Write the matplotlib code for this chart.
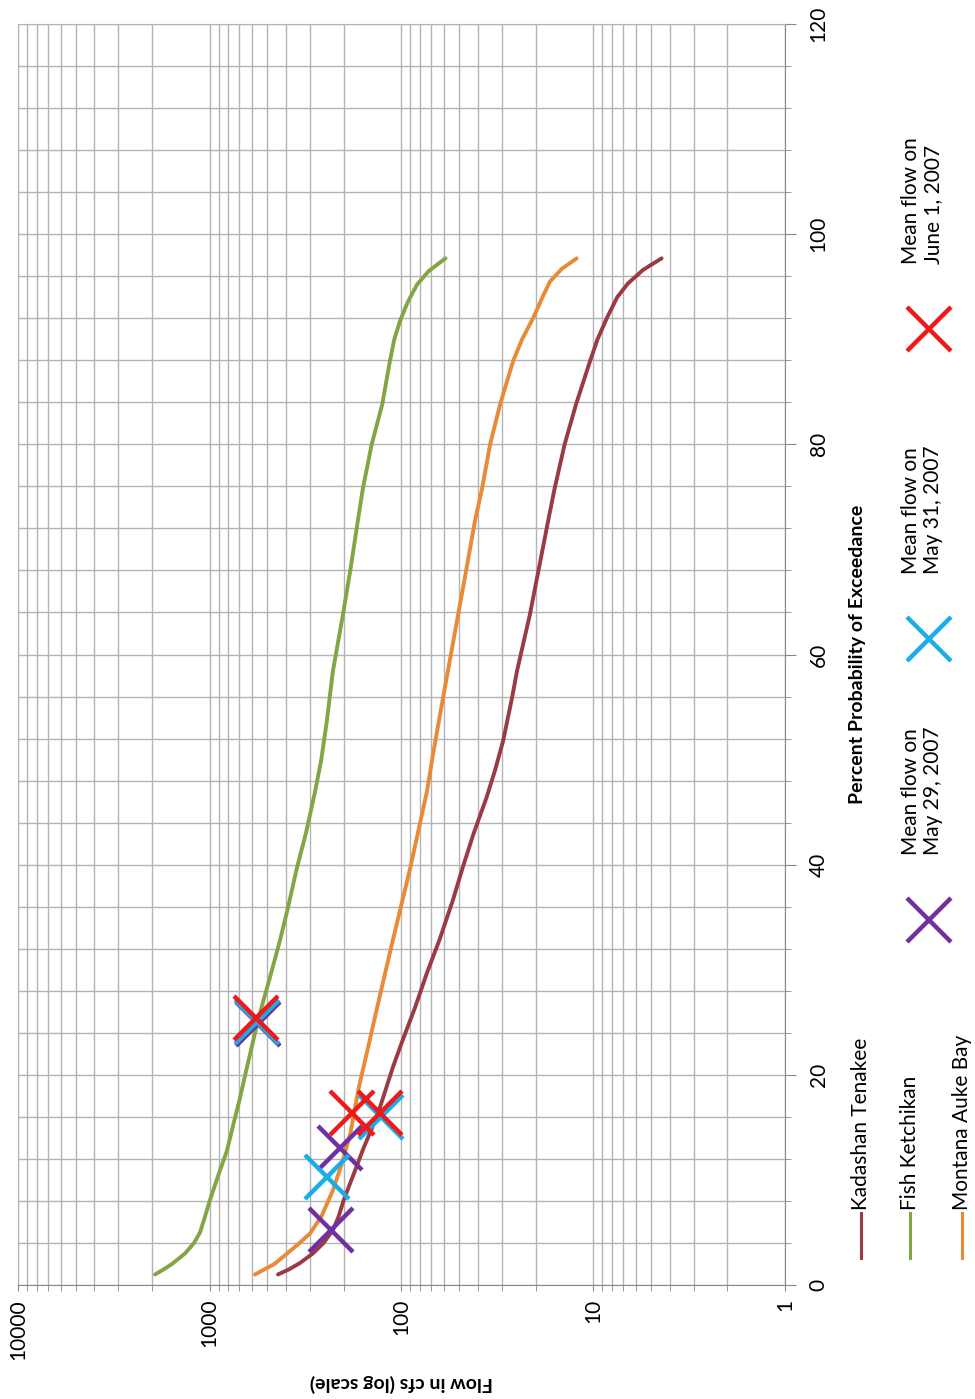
import matplotlib
matplotlib.use("Agg")
import matplotlib.pyplot as plt
from matplotlib.lines import Line2D
from matplotlib.ticker import MultipleLocator, FixedLocator, FixedFormatter, LogLocator, NullFormatter

# flow duration curves: percent exceedance vs flow (cfs)
kadashan_pct = [1, 1.5, 2.1, 3, 4, 5.2, 6.5, 8.1, 10.5, 13, 15, 17, 20.7, 23, 26.4, 29.6, 32.8,
                36.6, 39.7, 43, 46.4, 49, 51.8, 55.9, 58.4, 61, 63.8, 68, 72.7, 75.8, 80, 83.8,
                87.9, 90, 92, 94, 95.3, 96.6, 97.7]
kadashan_flow = [441, 385, 338, 290, 255, 228, 213, 200, 178, 158, 142, 129, 111, 100, 85, 74,
                 63.5, 54, 48, 42, 36, 32.5, 29.5, 26.5, 25, 23.2, 21.4, 19.3, 17.2, 15.9, 14.1,
                 12.3, 10.4, 9.5, 8.5, 7.5, 6.6, 5.5, 4.4]

fish_pct = [1, 1.5, 2, 3, 4, 5, 6.5, 8.1, 10.5, 12.8, 15, 17.6, 20.7, 25.5, 29, 32.8, 36,
            39.7, 43, 47, 50, 53.7, 58.4, 63.8, 68, 72.7, 75.8, 80, 83.8, 87.9, 90, 91.7, 93.5,
            95.2, 96.5, 97.7]
fish_flow = [1930, 1734, 1574, 1346, 1208, 1124, 1059, 997, 900, 813, 760, 700, 640, 555, 490,
             430, 390, 351, 315, 282, 262, 245, 228, 202, 185, 169, 159, 143, 126, 115, 109, 102,
             93, 83, 72, 59]

montana_pct = [1, 2, 3, 4, 4.9, 6.5, 9, 11.5, 14.4, 18.8, 22, 26.4, 32.8, 39.7, 47, 50.5, 55.9,
               63.5, 68, 72.7, 75.8, 80, 83.8, 87.9, 90, 92, 94, 95.5, 96.7, 97.7]
montana_flow = [581, 460, 395, 340, 300, 262, 228, 205, 185, 167, 152, 134, 111, 90, 73.6, 68.5,
                60.7, 51, 46, 41.4, 38, 34.5, 30.6, 26.2, 23.5, 20.6, 18.4, 16.8, 14.6, 12.2]

# daily mean flows, one point per stream (Fish, Montana, Kadashan)
may29_pct = [24.8, 13.0, 5.2]
may29_flow = [560, 210, 233]
may31_pct = [25.0, 10.3, 16.0]
may31_flow = [565, 245, 128]
jun1_pct = [25.4, 16.4, 16.4]
jun1_flow = [574, 181, 129]

plt.rcParams['font.family'] = ['Lato', 'DejaVu Sans']

W, H = 975, 1399
fig = plt.figure(figsize=(W / 100, H / 100), dpi=100)
ax = fig.add_axes([18 / W, 1 - 1285 / H, 767 / W, 1261 / H])

c_kad, c_fish, c_mon = '#9A3B43', '#83A545', '#E88A36'
c_29, c_31, c_01 = '#7030A0', '#1AAEE8', '#F01818'

line_kw = dict(lw=2.8, solid_capstyle='round', solid_joinstyle='round', zorder=3)
ax.plot(kadashan_flow, kadashan_pct, color=c_kad, **line_kw)
ax.plot(fish_flow, fish_pct, color=c_fish, **line_kw)
ax.plot(montana_flow, montana_pct, color=c_mon, **line_kw)

mk = dict(marker='x', ls='none', ms=31, mew=3.2, zorder=4)
ax.plot(may29_flow, may29_pct, color=c_29, **mk)
ax.plot(may31_flow, may31_pct, color=c_31, **mk)
ax.plot(jun1_flow, jun1_pct, color=c_01, **mk)

ax.set_xscale('log')
ax.set_xlim(10000, 1)
ax.set_ylim(0, 120)

ax.xaxis.set_major_locator(FixedLocator([1, 10, 100, 1000, 10000]))
ax.xaxis.set_major_formatter(FixedFormatter(['1', '10', '100', '1000', '10000']))
ax.xaxis.set_minor_locator(LogLocator(base=10, subs=range(2, 10)))
ax.xaxis.set_minor_formatter(NullFormatter())
ax.yaxis.set_major_locator(MultipleLocator(20))
ax.yaxis.set_minor_locator(MultipleLocator(4))

ax.grid(which='both', color='#B3B3B3', lw=1.0)
ax.set_axisbelow(True)

ax.yaxis.tick_right()
ax.tick_params(axis='x', which='both', direction='out', length=4, color='#888888',
               labelsize=15, labelrotation=90, pad=6)
ax.tick_params(axis='y', which='major', direction='out', length=8, color='#888888',
               labelsize=15, labelrotation=90, pad=9)
ax.tick_params(axis='y', which='minor', direction='out', length=4, color='#888888')
for lbl in ax.get_yticklabels():
    lbl.set_verticalalignment('center')
    lbl.set_horizontalalignment('left')

for s in ['bottom', 'right']:
    ax.spines[s].set_color('#888888')
for s in ['top', 'left']:
    ax.spines[s].set_color('#B3B3B3')

ax.set_xlabel('Flow in cfs (log scale)', fontsize=14, fontweight='bold', rotation=180)
ax.xaxis.set_label_coords(0.5, -(1383 - 1285) / 1261)
ax.xaxis.label.set_va('center')
ax.yaxis.set_label_position('right')
ax.set_ylabel('Percent Probability of Exceedance', fontsize=14, fontweight='bold', rotation=90)
ax.yaxis.set_label_coords((858 - 18) / 767, 0.5)
ax.yaxis.label.set_va('center')


def fx(x):
    return x / W


def fy(y):
    return 1 - y / H


# legend drawn sideways to the right of the plot
series_legend = [('Kadashan Tenakee', c_kad, 861), ('Fish Ketchikan', c_fish, 910),
                 ('Montana Auke Bay', c_mon, 962)]
for name, col, x in series_legend:
    fig.add_artist(Line2D([fx(x), fx(x)], [fy(1258), fy(1213)], color=col, lw=2.2,
                          transform=fig.transFigure))
    fig.text(fx(x), fy(1210), name, rotation=90, rotation_mode='anchor',
             ha='left', va='center', fontsize=15)

date_legend = [('Mean flow on\nMay 29, 2007', c_29, 920), ('Mean flow on\nMay 31, 2007', c_31, 639),
               ('Mean flow on\nJune 1, 2007', c_01, 329)]
for name, col, y in date_legend:
    fig.add_artist(Line2D([fx(929)], [fy(y)], marker='x', ms=31, mew=3.2, color=col,
                          ls='none', transform=fig.transFigure))
    fig.text(fx(922), fy(y - 65), name, rotation=90, rotation_mode='anchor',
             ha='left', va='center', fontsize=15, linespacing=1.15)

fig.savefig('out.png', dpi=100)
